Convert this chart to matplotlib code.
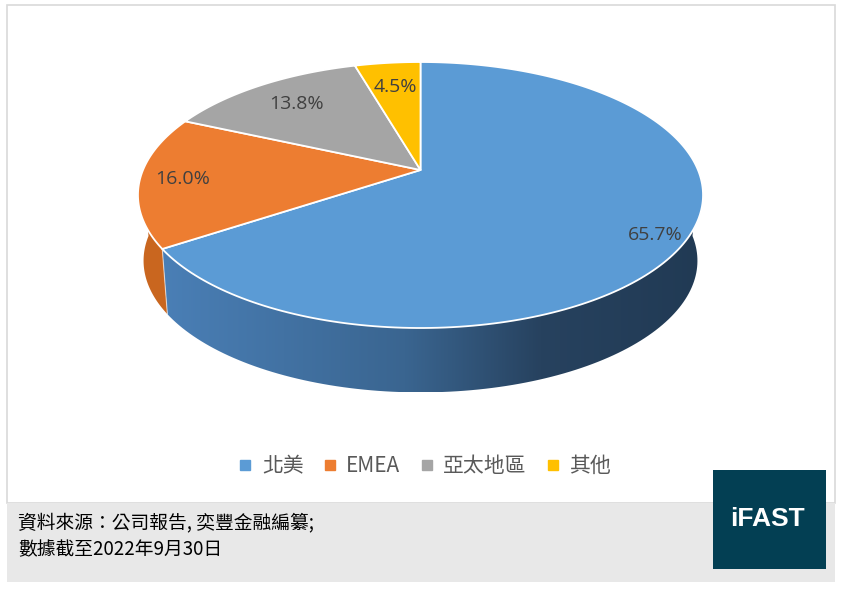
import numpy as np
import matplotlib
matplotlib.use("Agg")
import matplotlib.pyplot as plt
from matplotlib.patches import Polygon, Rectangle
from matplotlib.lines import Line2D
from matplotlib.colors import LinearSegmentedColormap

# data
regions = ["北美", "EMEA", "亞太地區", "其他"]
shares = [65.7, 16.0, 13.8, 4.5]
top_colors = ["#5b9bd5", "#ed7d31", "#a5a5a5", "#ffc000"]
source_line1 = "資料來源：公司報告, 奕豐金融編纂;"
source_line2 = "數據截至2022年9月30日"
logo_text = "iFAST"

# label radius (fraction of pie radius) and angle nudge per slice, like excel's best fit
label_r = [0.9, 0.85, 0.75, 0.74]
label_nudge = [-2.5, 0, 0, 0]

# pie geometry in pixels (perspective squashed circle)
CX, CY = 420.5, 170.0
RX, RY = 277.5, 128.3
K = 0.188
DEPTH_CY, RX_B, RY_B = 236.0, 272.0, 127.0


def proj(theta_deg, f=1.0, cy=CY, rx=RX, ry=RY):
    t = np.radians(theta_deg)
    c, s = np.cos(t) * f, np.sin(t) * f
    w = 1 + K * s
    return CX + rx * c / w, cy - ry * s / w


fig = plt.figure(figsize=(8.44, 5.9), dpi=100)
ax = fig.add_axes([0, 0, 1, 1])
ax.set_xlim(0, 844)
ax.set_ylim(590, 0)
ax.axis("off")

# frame, footer band and logo box
ax.add_patch(Rectangle((7, 5), 828, 498, facecolor="white", edgecolor="#d9d9d9", lw=1.2, zorder=0))
ax.add_patch(Rectangle((7, 503), 828, 79, facecolor="#e8e8e8", edgecolor="none", zorder=1))
ax.add_patch(Rectangle((713, 470), 113, 99, facecolor="#033f53", edgecolor="none", zorder=2))
ax.text(767, 519, logo_text, color="white", fontsize=19, fontweight="bold",
        family="Liberation Sans", ha="center", va="center", zorder=3)

# slice angles, clockwise from 12 o'clock
total = sum(shares)
cum = np.concatenate([[0], np.cumsum(shares)]) / total
starts = 90 - 360 * cum[:-1]
ends = 90 - 360 * cum[1:]

blue_cmap = LinearSegmentedColormap.from_list(
    "side", [(0, "#4a7fb6"), (0.45, "#3a6590"), (0.7, "#27425f"), (1, "#213a54")])

# side walls (front half only)
for i in range(len(shares)):
    a = max(ends[i], -180)
    b = min(starts[i], 0)
    if a >= b:
        continue
    th = np.linspace(b, a, 120)
    tx, ty = proj(th)
    bx, by = proj(th[::-1], cy=DEPTH_CY, rx=RX_B, ry=RY_B)
    pts = np.column_stack([np.concatenate([tx, bx]), np.concatenate([ty, by])])
    if i == 0:
        poly = Polygon(pts, closed=True, facecolor="none", edgecolor="none", zorder=4)
        ax.add_patch(poly)
        x0, x1 = pts[:, 0].min(), pts[:, 0].max()
        y0, y1 = pts[:, 1].min(), pts[:, 1].max()
        grad = np.linspace(0, 1, 256).reshape(1, -1)
        im = ax.imshow(grad, cmap=blue_cmap, extent=[x0, x1, y1, y0], aspect="auto",
                       zorder=4, interpolation="bilinear")
        im.set_clip_path(poly)
        ex, ey = proj(a)
        ebx, eby = proj(a, cy=DEPTH_CY, rx=RX_B, ry=RY_B)
        ax.plot([ex, ebx], [ey, eby], color="white", lw=0.8, alpha=0.6, zorder=5)
    else:
        ax.add_patch(Polygon(pts, closed=True, facecolor="#c9661f", edgecolor="none", zorder=4))

ax.set_xlim(0, 844)
ax.set_ylim(590, 0)

# top face
for i in range(len(shares)):
    th = np.linspace(starts[i], ends[i], 200)
    px, py = proj(th)
    pts = np.column_stack([np.concatenate([[CX], px]), np.concatenate([[CY], py])])
    ax.add_patch(Polygon(pts, closed=True, facecolor=top_colors[i], edgecolor="white",
                         lw=1.3, joinstyle="round", zorder=6))

# data labels
for i in range(len(shares)):
    mid = (starts[i] + ends[i]) / 2 + label_nudge[i]
    lx, ly = proj(mid, f=label_r[i])
    ax.text(lx, ly, f"{shares[i]:.1f}%", fontsize=14, color="#404040",
            family="Open Sans", ha="center", va="center", zorder=7)

# legend
handles = [Line2D([], [], marker="s", ls="", color=c, markersize=7) for c in top_colors]
fig.legend(handles, regions, loc="center", bbox_to_anchor=(424 / 844, 1 - 466 / 590),
           ncol=4, frameon=False, handlelength=0.8, handletextpad=0.4, columnspacing=0.85,
           prop={"family": ["Noto Sans CJK TC", "DejaVu Sans"], "size": 15},
           labelcolor="#595959")

# source footer
ax.text(18, 523, source_line1, fontsize=13.5, color="black",
        family=["Noto Sans CJK TC", "DejaVu Sans"], va="center", ha="left", zorder=3)
ax.text(18, 550, source_line2, fontsize=13.5, color="black",
        family=["Noto Sans CJK TC", "DejaVu Sans"], va="center", ha="left", zorder=3)

plt.savefig("out.png", dpi=100)
